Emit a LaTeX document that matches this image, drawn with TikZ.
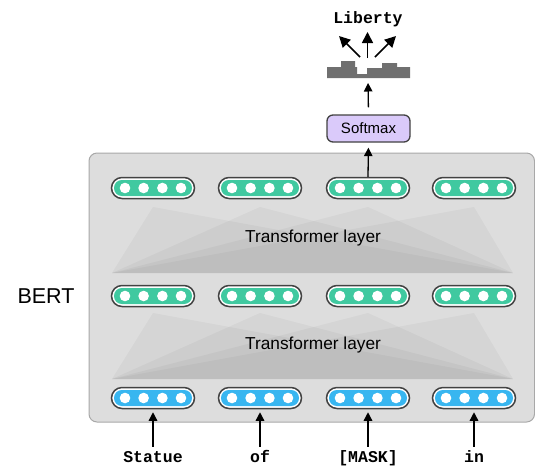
\documentclass[tikz,border=0pt]{standalone}
\usepackage{fontspec}
\setmainfont{Liberation Sans}
\newfontfamily\codefont{Liberation Mono}
\usetikzlibrary{arrows.meta,shapes.misc}

\definecolor{panelfill}{RGB}{221,221,221}
\definecolor{panelrim}{RGB}{168,168,168}
\definecolor{pillrim}{RGB}{66,66,66}
\definecolor{tealfill}{RGB}{64,201,160}
\definecolor{bluefill}{RGB}{56,182,240}
\definecolor{softfill}{RGB}{218,202,250}
\definecolor{histfill}{RGB}{112,112,112}

\tikzset{
  pill/.style={rounded rectangle, minimum width=83pt, minimum height=21pt,
    inner sep=0pt, draw=pillrim, line width=1.5pt, fill=white,
    path picture={
      \fill[#1, rounded corners=7.8pt]
        ([shift={(2.5pt,2.5pt)}]path picture bounding box.south west) rectangle
        ([shift={(-2.5pt,-2.5pt)}]path picture bounding box.north east);
      \foreach \dx in {-28,-9.4,9.4,28}
        \fill[white] ([xshift=\dx pt]path picture bounding box.center) circle (5.3pt);
    }},
  tokenlabel/.style={font=\codefont\bfseries\fontsize{16.5}{18}\selectfont,
    text height=10pt, text depth=3pt, inner xsep=0pt, inner ysep=5pt, anchor=base},
  layertext/.style={font=\fontsize{17.3}{19}\selectfont, inner sep=0pt},
  arr/.style={line width=1.3pt, -{Triangle[length=8.5pt,width=8.5pt]}},
  fanarr/.style={line width=1.6pt, -{Triangle[length=11pt,width=11pt]}},
  softbox/.style={rectangle, rounded corners=6pt, minimum width=83pt,
    minimum height=27pt, inner sep=0pt, fill=softfill, draw=pillrim,
    line width=1.3pt, font=\fontsize{15}{17}\selectfont},
}

\begin{document}
\begin{tikzpicture}[x=1pt,y=-1pt]
\useasboundingbox (0,0) rectangle (535,467);

% BERT panel
\path[fill=panelfill, draw=panelrim, line width=1pt, rounded corners=8pt]
  (89,153) rectangle (534.5,422);

% attention fans of the two transformer layers
\foreach \ax in {153,260,368,474} {
  \fill[black, opacity=0.035] (112,273) -- (513,273) -- (\ax,207) -- cycle;
  \fill[black, opacity=0.035] (112,379) -- (513,379) -- (\ax,313) -- cycle;
}
\node[layertext] (layerA) at (313,238) {Transformer layer};
\node[layertext] (layerB) at (313,345) {Transformer layer};

\node[font=\fontsize{21.5}{24}\selectfont, inner sep=0pt] (bert) at (46,296) {BERT};

% token vectors
\foreach \i/\x in {1/153,2/260,3/368,4/474} {
  \node[pill=bluefill] (in\i) at (\x,398) {};
  \node[pill=tealfill] (mid\i) at (\x,296) {};
  \node[pill=tealfill] (top\i) at (\x,188) {};
}

% input tokens
\node[tokenlabel] (w1) at (153,462) {Statue};
\node[tokenlabel] (w2) at (260,462) {of};
\node[tokenlabel] (w3) at (368,462) {[MASK]};
\node[tokenlabel] (w4) at (474,462) {in};
\foreach \i in {1,...,4}
  \draw[arr, shorten >=3pt] (w\i.north) -- (in\i.south);

% prediction head
\node[softbox] (softmax) at (368.5,128.5) {Softmax};
\draw[arr, shorten >=5pt] (top3.north) -- (softmax.south);

\fill[histfill] (327,78) -- (327,67) -- (341,67) -- (341,61) -- (355,61)
  -- (355,67) -- (357,67) -- (357,74) -- (367,74) -- (367,68) -- (382,68)
  -- (382,63) -- (397,63) -- (397,67) -- (410,67) -- (410,78) -- cycle;
\coordinate (histbase) at (368,78);
\draw[arr, shorten <=7pt, shorten >=5pt] (softmax.north) -- (histbase);

\coordinate (fanL) at (360,57);
\coordinate (fanC) at (367.5,58);
\coordinate (fanR) at (375,57);
\coordinate (outL) at (339,36);
\coordinate (outC) at (367.5,32);
\coordinate (outR) at (396,36);
\draw[fanarr] (fanL) -- (outL);
\draw[fanarr] (fanC) -- (outC);
\draw[fanarr] (fanR) -- (outR);

\node[tokenlabel] (answer) at (368,23) {Liberty};
\end{tikzpicture}
\end{document}
